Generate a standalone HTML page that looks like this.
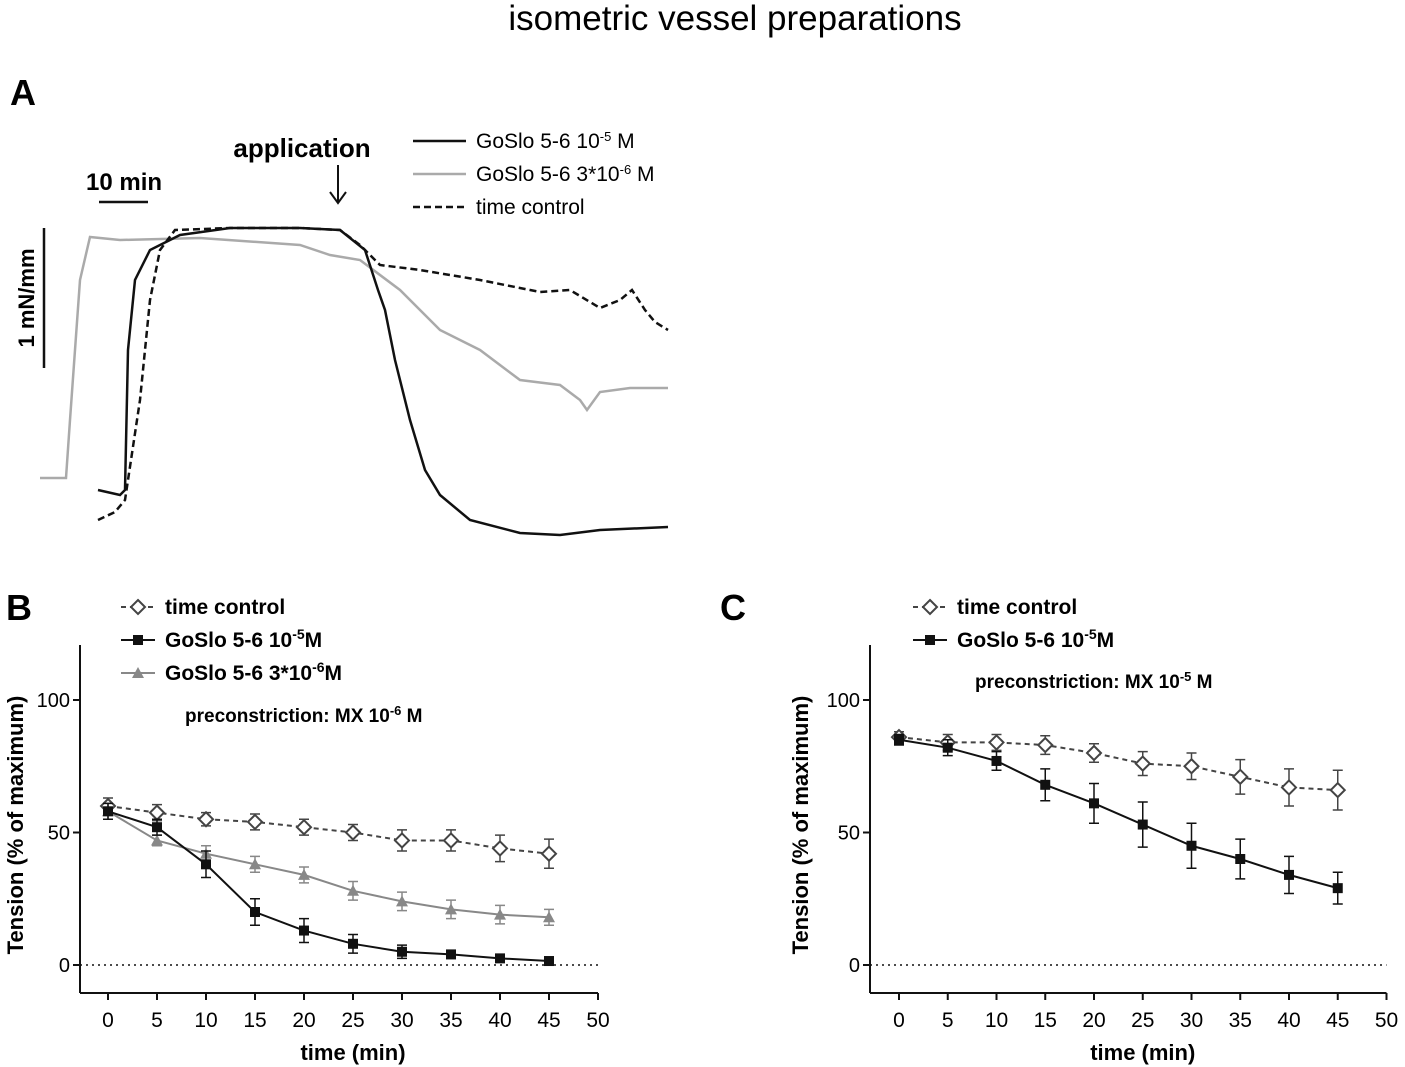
<!DOCTYPE html>
<html><head><meta charset="utf-8"><style>
body{margin:0;background:#fff;}
svg{display:block;font-family:"Liberation Sans",Arial,sans-serif;}
</style></head><body>
<svg id="fig" width="1405" height="1067" viewBox="0 0 1405 1067">
<text x="735" y="30" font-size="35" text-anchor="middle">isometric vessel preparations</text>
<text x="10" y="105" font-size="36" font-weight="bold">A</text>
<text x="6" y="620" font-size="36" font-weight="bold">B</text>
<text x="720" y="620" font-size="36" font-weight="bold">C</text>
<g id="pa"></g>
<g id="pb"></g>
<g id="pc"></g>
</svg>
<script>
// Panel A traces
const traceGrayT=[40,66,70,80,90,120,200,300,330,360,400,440,480,520,560,580,587,600,630,668];
const traceGrayV=[478,478,420,280,237,240,238,245,255,260,290,330,350,380,385,400,410,392,388,388];
const traceBlackT=[98,120,125,128,135,150,180,230,300,340,365,378,385,395,410,425,440,470,520,560,600,668];
const traceBlackV=[490,495,490,350,280,250,235,228,228,230,250,290,310,360,420,470,495,520,533,535,530,527];
const traceDashT=[98,115,125,140,150,160,175,230,300,340,360,380,420,480,540,570,600,620,632,645,655,668];
const traceDashV=[520,512,500,400,300,250,230,228,228,230,245,265,270,280,292,290,308,300,290,310,322,330];

// Panel B data
const timeCats=[0,5,10,15,20,25,30,35,40,45];
const bControl=[60,57.5,55,54,52,50,47,47,44,42];
const bControlErr=[3,3,2.5,3,3,3,4,4,5,5.5];
const bHigh=[58,52,38,20,13,8,5,4,2.5,1.5];
const bHighErr=[3,3,5,5,4.5,3.5,2.5,1.5,1,1];
const bLow=[58,47,42,38,34,28,24,21,19,18];
const bLowErr=[3,2,3,3,3,3.5,3.5,3.5,3.5,3];
// Panel C data
const cControl=[86,84,84,83,80,76,75,71,67,66];
const cControlErr=[2,3,3,3.5,3.5,4.5,5,6.5,7,7.5];
const cHigh=[85,82,77,68,61,53,45,40,34,29];
const cHighErr=[2,3,3.5,6,7.5,8.5,8.5,7.5,7,6];
const xTicks=[0,5,10,15,20,25,30,35,40,45,50];
const yTicks=[0,50,100];

const NS="http://www.w3.org/2000/svg";
function mk(parent,tag,attrs){const e=document.createElementNS(NS,tag);for(const k in attrs)e.setAttribute(k,attrs[k]);parent.appendChild(e);return e;}

const pa=document.getElementById('pa');
function trace(T,V,stroke,dash,name){
  const p=mk(pa,'path',{d:T.map((t,i)=>(i?'L':'M')+t+','+V[i]).join(''),fill:'none',stroke:stroke,'stroke-width':2.5,'stroke-dasharray':dash});
  
  
}
trace(traceGrayT,traceGrayV,'#aaa','none','trace-goslo-3e-6');
trace(traceDashT,traceDashV,'#111','7,4','trace-time-control');
trace(traceBlackT,traceBlackV,'#111','none','trace-goslo-1e-5');
let e;
e=mk(pa,'line',{x1:99,y1:202,x2:148,y2:202,stroke:'#111','stroke-width':2.5});
e=mk(pa,'text',{x:124,y:190,'font-size':24,'font-weight':'bold','text-anchor':'middle'});e.textContent='10 min';
e=mk(pa,'line',{x1:44,y1:228,x2:44,y2:368,stroke:'#111','stroke-width':2.5});
e=mk(pa,'text',{x:0,y:0,'font-size':22,'font-weight':'bold','text-anchor':'middle',transform:'translate(34,298) rotate(-90)'});e.textContent='1 mN/mm';
e=mk(pa,'text',{x:302,y:157,'font-size':26,'font-weight':'bold','text-anchor':'middle'});e.textContent='application';
e=mk(pa,'path',{d:'M338,165 L338,203 M330,192 L338,203 L346,192',fill:'none',stroke:'#111','stroke-width':2});
const la=[['#111','none','GoSlo 5-6 10','-5',' M'],['#aaa','none','GoSlo 5-6 3*10','-6',' M'],['#111','7,4','time control','','']];
la.forEach((l,i)=>{const y=141+i*33;
  const g=mk(pa,'g',{});
  mk(g,'line',{x1:413,y1:y,x2:466,y2:y,stroke:l[0],'stroke-width':2.5,'stroke-dasharray':l[1]});
  const t=mk(g,'text',{x:476,y:y+7,'font-size':21});t.textContent=l[2];
  if(l[3]){const s=mk(t,'tspan',{'baseline-shift':'super','font-size':13});s.textContent=l[3];const s2=mk(t,'tspan',{});s2.textContent=l[4];}
});

function panel(g,ax,series,legend,note){
  const x0=ax.ox, xs=v=>ax.x0+v*ax.kx, ys=v=>965-v*2.65;
  e=mk(g,'line',{x1:x0,y1:645,x2:x0,y2:993,stroke:'#111','stroke-width':2});
  e=mk(g,'line',{x1:x0,y1:993,x2:xs(50),y2:993,stroke:'#111','stroke-width':2});
  e=mk(g,'line',{x1:x0,y1:ys(0),x2:xs(50),y2:ys(0),stroke:'#111','stroke-width':1.5,'stroke-dasharray':'2,4'});
  xTicks.forEach(t=>{mk(g,'line',{x1:xs(t),y1:993,x2:xs(t),y2:1000,stroke:'#111','stroke-width':2});
    e=mk(g,'text',{x:xs(t),y:1027,'font-size':21,'text-anchor':'middle'});e.textContent=t;});
  yTicks.forEach(t=>{mk(g,'line',{x1:x0-7,y1:ys(t),x2:x0,y2:ys(t),stroke:'#111','stroke-width':2});
    e=mk(g,'text',{x:x0-10,y:ys(t)+7,'font-size':20,'text-anchor':'end'});e.textContent=t;});
  e=mk(g,'text',{x:xs(25),y:1060,'font-size':22,'font-weight':'bold','text-anchor':'middle'});e.textContent='time (min)';
  e=mk(g,'text',{x:0,y:0,'font-size':22,'font-weight':'bold','text-anchor':'middle',transform:`translate(${x0-ax.yt},825) rotate(-90)`});e.textContent='Tension (% of maximum)';
  series.forEach(s=>{
    const sg=mk(g,'g',{});
    mk(sg,'path',{d:timeCats.map((t,i)=>(i?'L':'M')+xs(t)+','+ys(s.v[i])).join(''),fill:'none',stroke:s.c,'stroke-width':2,'stroke-dasharray':s.dash});
    timeCats.forEach((t,i)=>{const x=xs(t),y1=ys(s.v[i]+s.e[i]),y2=ys(s.v[i]-s.e[i]);
      mk(sg,'path',{d:`M${x},${y1}L${x},${y2}M${x-5},${y1}L${x+5},${y1}M${x-5},${y2}L${x+5},${y2}`,stroke:s.c,'stroke-width':1.5,fill:'none'});
      marker(sg,s.m,x,ys(s.v[i]),s.c);});
  });
  legend.forEach((l,i)=>{const y=ax.ly+i*33;
    const lg=mk(g,'g',{});
    mk(lg,'line',{x1:ax.lx-17,y1:y,x2:ax.lx+17,y2:y,stroke:l.c,'stroke-width':2,'stroke-dasharray':l.dash});
    marker(lg,l.m,ax.lx,y,l.c);
    const t=mk(lg,'text',{x:ax.lx+27,y:y+7,'font-size':21,'font-weight':'bold'});t.textContent=l.t;
    if(l.sup){const s=mk(t,'tspan',{'baseline-shift':'super','font-size':14});s.textContent=l.sup;const s2=mk(t,'tspan',{});s2.textContent=l.after;}
  });
  const nt=mk(g,'text',{x:note.x,y:note.y,'font-size':19,'font-weight':'bold'});
  nt.textContent='preconstriction: MX 10';const s=mk(nt,'tspan',{'baseline-shift':'super','font-size':13});s.textContent=note.sup;const s2=mk(nt,'tspan',{});s2.textContent=' M';
}
function marker(g,m,x,y,c){
  if(m==='d')mk(g,'path',{d:`M${x},${y-7}L${x+7},${y}L${x},${y+7}L${x-7},${y}Z`,fill:'#fff',stroke:'#444','stroke-width':2});
  else if(m==='s')mk(g,'rect',{x:x-5,y:y-5,width:10,height:10,fill:c});
  else mk(g,'path',{d:`M${x},${y-6}L${x+6},${y+5}L${x-6},${y+5}Z`,fill:c});
}
const legCtl={t:'time control',m:'d',c:'#444',dash:'5,4'};
const legHigh={t:'GoSlo 5-6 10',sup:'-5',after:'M',m:'s',c:'#111',dash:'none'};
const legLow={t:'GoSlo 5-6 3*10',sup:'-6',after:'M',m:'t',c:'#888',dash:'none'};
panel(document.getElementById('pb'),{ox:80,x0:108,kx:9.8,lx:138,ly:607,yt:57},
 [{name:'series-time-control',v:bControl,e:bControlErr,c:'#444',dash:'5,4',m:'d'},
  {name:'series-goslo-3e-6',v:bLow,e:bLowErr,c:'#888',dash:'none',m:'t'},
  {name:'series-goslo-1e-5',v:bHigh,e:bHighErr,c:'#111',dash:'none',m:'s'}],
 [legCtl,legHigh,legLow],{x:185,y:722,sup:'-6'});
panel(document.getElementById('pc'),{ox:870,x0:899,kx:9.75,lx:930,ly:607,yt:62},
 [{name:'series-time-control',v:cControl,e:cControlErr,c:'#444',dash:'5,4',m:'d'},
  {name:'series-goslo-1e-5',v:cHigh,e:cHighErr,c:'#111',dash:'none',m:'s'}],
 [legCtl,legHigh],{x:975,y:688,sup:'-5'});
</script>
</body></html>
